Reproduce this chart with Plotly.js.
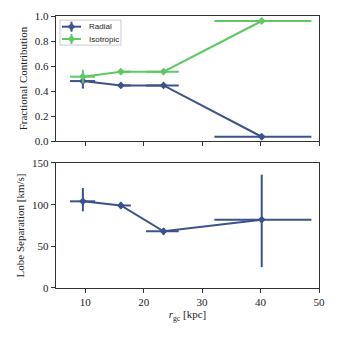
<!DOCTYPE html>
<html>
<head>
<meta charset="utf-8">
<script src="https://cdn.plot.ly/plotly-3.0.1.min.js"></script>
<style>
  html, body { margin: 0; padding: 0; background: #fff; }
  #chart { width: 337px; height: 337px; }
</style>
</head>
<body>
<div id="chart"></div>
<script>
// bin centres and edges (kpc)
var rgc = [9.6, 16.1, 23.4, 40.2];
var rgcLow = [2.2, 0.5, 3.0, 8.1];
var rgcHigh = [2.1, 1.7, 2.6, 8.5];

var seriesNames = ['Radial', 'Isotropic'];

// fractional contributions
var radial = [0.48, 0.445, 0.445, 0.035];
var radialErr = [0.06, 0.01, 0.01, 0.01];
var isotropic = [0.515, 0.555, 0.555, 0.96];
var isotropicErr = [0.055, 0.01, 0.01, 0.01];

// lobe separation (km/s)
var lobeSep = [104, 99, 68, 82];
var lobeUp = [16, 4, 4, 54];
var lobeDown = [12, 4, 4, 57];

var blue = '#3b528b';
var green = '#5ec962';
var colors = [blue, green];

function xErr(col) {
  return { type: 'data', symmetric: false, array: rgcHigh, arrayminus: rgcLow,
    color: col, thickness: 2, width: 0 };
}

var traces = [
  {
    x: rgc, y: radial, name: seriesNames[0], type: 'scatter', mode: 'lines+markers',
    line: { color: blue, width: 2 },
    marker: { symbol: 'diamond', size: 6, color: blue },
    error_x: xErr(blue),
    error_y: { type: 'data', array: radialErr, color: blue, thickness: 2, width: 0 },
    xaxis: 'x', yaxis: 'y'
  },
  {
    x: rgc, y: isotropic, name: seriesNames[1], type: 'scatter', mode: 'lines+markers',
    line: { color: green, width: 2 },
    marker: { symbol: 'diamond', size: 6, color: green },
    error_x: xErr(green),
    error_y: { type: 'data', array: isotropicErr, color: green, thickness: 2, width: 0 },
    xaxis: 'x', yaxis: 'y'
  },
  {
    x: rgc, y: lobeSep, type: 'scatter', mode: 'lines+markers',
    line: { color: blue, width: 2 },
    marker: { symbol: 'diamond', size: 6, color: blue },
    error_x: xErr(blue),
    error_y: { type: 'data', symmetric: false, array: lobeUp, arrayminus: lobeDown,
      color: blue, thickness: 2, width: 0 },
    xaxis: 'x2', yaxis: 'y2'
  }
];

// hand-drawn legend (plotly's own legend rows are too tall here)
var shapes = [{
  type: 'rect', xref: 'paper', yref: 'paper',
  x0: 0.0152, x1: 0.247, y0: 0.893, y1: 0.985,
  line: { color: '#cccccc', width: 1 }, fillcolor: 'rgba(255,255,255,0.8)', layer: 'above'
}];
var annotations = [];
var rowY = [0.9607, 0.9154];
seriesNames.forEach(function (name, i) {
  var c = colors[i];
  shapes.push({ type: 'line', xref: 'paper', yref: 'paper', layer: 'above',
    x0: 0.0228, x1: 0.095, y0: rowY[i], y1: rowY[i], line: { color: c, width: 2 } });
  shapes.push({ type: 'path', xref: 'paper', yref: 'paper', layer: 'above',
    xsizemode: 'pixel', ysizemode: 'pixel', xanchor: 0.0589, yanchor: rowY[i],
    path: 'M -3.5 0 L 0 3.5 L 3.5 0 L 0 -3.5 Z', fillcolor: c, line: { color: c, width: 0.5 } });
  shapes.push({ type: 'path', xref: 'paper', yref: 'paper', layer: 'above',
    xsizemode: 'pixel', ysizemode: 'pixel', xanchor: 0.0589, yanchor: rowY[i],
    path: 'M 0 -5 L 0 5', line: { color: c, width: 2 } });
  annotations.push({ xref: 'paper', yref: 'paper', x: 0.118, y: rowY[i],
    xanchor: 'left', yanchor: 'middle', showarrow: false, text: name,
    font: { family: 'Liberation Sans, sans-serif', size: 8, color: '#222' } });
});

var serif = 'Liberation Serif, serif';

var axisCommon = {
  showline: true, mirror: true, linecolor: '#333', linewidth: 1.2,
  ticks: 'outside', ticklen: 4, tickwidth: 1, tickcolor: '#333',
  showgrid: false, zeroline: false,
  tickfont: { family: serif, size: 11, color: '#222' }
};

var layout = {
  width: 337, height: 337,
  margin: { l: 56, r: 18, t: 16, b: 49 },
  paper_bgcolor: '#fff', plot_bgcolor: '#fff',
  font: { family: serif, color: '#222' },
  showlegend: false,
  shapes: shapes,
  annotations: annotations,
  xaxis: Object.assign({}, axisCommon, {
    domain: [0, 1], range: [5, 50], anchor: 'y',
    tickvals: [10, 20, 30, 40, 50], showticklabels: false
  }),
  yaxis: Object.assign({}, axisCommon, {
    domain: [0.54, 1], range: [0, 1], anchor: 'x',
    tickvals: [0, 0.2, 0.4, 0.6, 0.8, 1.0], tickformat: '.1f',
    title: { text: 'Fractional Contribution', standoff: 5,
      font: { family: serif, size: 11, color: '#222' } }
  }),
  xaxis2: Object.assign({}, axisCommon, {
    domain: [0, 1], range: [5, 50], anchor: 'y2',
    tickvals: [10, 20, 30, 40, 50],
    title: { text: '<i>r</i><sub>gc</sub> [kpc]', standoff: 2,
      font: { family: serif, size: 11, color: '#222' } }
  }),
  yaxis2: Object.assign({}, axisCommon, {
    domain: [0, 0.4596], range: [0, 150], anchor: 'x2',
    tickvals: [0, 50, 100, 150],
    title: { text: 'Lobe Separation [km/s]', standoff: 5,
      font: { family: serif, size: 11, color: '#222' } }
  })
};

Plotly.newPlot('chart', traces, layout, { displayModeBar: false, staticPlot: true });
</script>
</body>
</html>
